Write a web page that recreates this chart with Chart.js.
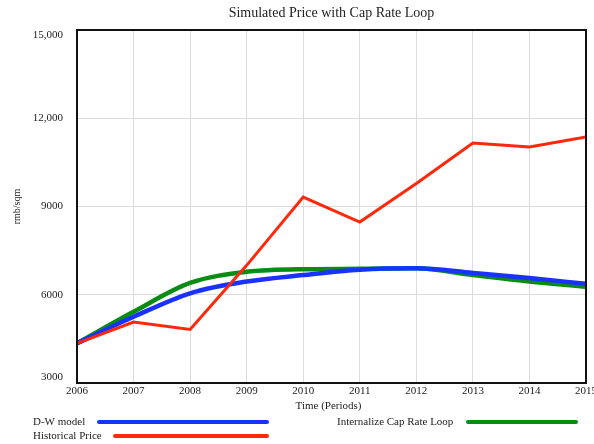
<!DOCTYPE html>
<html>
<head>
<meta charset="utf-8">
<script src="https://cdn.jsdelivr.net/npm/chart.js@4/dist/chart.umd.min.js"></script>
<style>
html,body{margin:0;padding:0;background:#fff;}
#wrap{width:594px;height:444px;position:relative;}
</style>
</head>
<body>
<div id="wrap"><canvas id="c" width="594" height="444"></canvas></div>
<script>
const chartTitle = "Simulated Price with Cap Rate Loop";
const xTitle = "Time (Periods)";
const yTitle = "rmb/sqm";
const years = [2006, 2007, 2008, 2009, 2010, 2011, 2012, 2013, 2014, 2015];
const dwModel = [4350, 5250, 6050, 6450, 6670, 6850, 6900, 6740, 6570, 6370];
const internalizeLoop = [4350, 5420, 6400, 6780, 6870, 6880, 6900, 6670, 6450, 6270];
const historicalPrice = [4350, 5070, 4820, 7000, 9320, 8470, 9780, 11160, 11020, 11360];
const yTickValues = [3000, 6000, 9000, 12000, 15000];
const yTickLabels = ["3000", "6000", "9000", "12,000", "15,000"];
const seriesNames = ["D-W model", "Internalize Cap Rate Loop", "Historical Price"];

const BLUE = "rgb(25,50,255)", GREEN = "rgb(10,140,20)", RED = "rgb(255,40,10)";
const FONT = "'Liberation Serif', 'Times New Roman', serif";
const TXT = "#222";

const toPts = arr => arr.map((v, i) => ({x: years[i], y: v}));

const deco = {
  id: 'deco',
  afterDatasetsDraw(chart) {
    const {ctx, chartArea: a} = chart;
    ctx.save();
    ctx.strokeStyle = "#111";
    ctx.lineWidth = 2;
    ctx.strokeRect(a.left, a.top, a.right - a.left, a.bottom - a.top);
    ctx.restore();
  },
  afterDraw(chart) {
    const {ctx, chartArea: a, scales} = chart;
    const xs = scales.x, ys = scales.y;
    ctx.save();
    ctx.fillStyle = TXT;
    // title
    ctx.font = "14px " + FONT;
    ctx.textAlign = "center"; ctx.textBaseline = "middle";
    ctx.fillText(chartTitle, (a.left + a.right) / 2, 13);
    // y tick labels
    ctx.font = "11px " + FONT;
    ctx.textAlign = "right";
    yTickValues.forEach((v, i) => {
      let py = ys.getPixelForValue(v);
      py = Math.min(Math.max(py, a.top + 5), a.bottom - 6);
      ctx.fillText(yTickLabels[i], a.left - 14, py);
    });
    // x tick labels
    ctx.textAlign = "center";
    years.forEach(v => {
      ctx.fillText(String(v), xs.getPixelForValue(v), a.bottom + 8);
    });
    // x title
    ctx.fillText(xTitle, (a.left + a.right) / 2 - 3, a.bottom + 23);
    // y title
    ctx.save();
    ctx.translate(17, (a.top + a.bottom) / 2);
    ctx.rotate(-Math.PI / 2);
    ctx.font = "10px " + FONT;
    ctx.fillText(yTitle, 0, 0);
    ctx.restore();
    // legend
    ctx.font = "11px " + FONT;
    ctx.textAlign = "left";
    const leg = [
      {t: seriesNames[0], tx: 33, y: 422, x1: 99, x2: 267, c: BLUE, w: 4},
      {t: seriesNames[1], tx: 337, y: 422, x1: 468, x2: 576, c: GREEN, w: 4},
      {t: seriesNames[2], tx: 33, y: 436, x1: 115, x2: 267, c: RED, w: 4}
    ];
    leg.forEach(l => {
      ctx.fillStyle = TXT;
      ctx.fillText(l.t, l.tx, l.y);
      ctx.strokeStyle = l.c; ctx.lineWidth = l.w; ctx.lineCap = "round";
      ctx.beginPath(); ctx.moveTo(l.x1, l.y); ctx.lineTo(l.x2, l.y); ctx.stroke();
    });
    ctx.restore();
  }
};

new Chart(document.getElementById('c'), {
  type: 'line',
  data: {
    datasets: [
      {label: seriesNames[2], data: toPts(historicalPrice), borderColor: RED, borderWidth: 3, tension: 0, order: 0},
      {label: seriesNames[0], data: toPts(dwModel), borderColor: BLUE, borderWidth: 4.5, cubicInterpolationMode: 'monotone', order: 1},
      {label: seriesNames[1], data: toPts(internalizeLoop), borderColor: GREEN, borderWidth: 4.5, cubicInterpolationMode: 'monotone', order: 2}
    ]
  },
  options: {
    responsive: false,
    animation: false,
    devicePixelRatio: 1,
    layout: {padding: {left: 77, right: 8, top: 30, bottom: 61}},
    elements: {point: {radius: 0}},
    plugins: {legend: {display: false}, title: {display: false}, tooltip: {enabled: false}},
    scales: {
      x: {
        type: 'linear', min: 2006, max: 2015,
        ticks: {display: false, stepSize: 1},
        grid: {color: "#dcdcdc", lineWidth: 1, drawTicks: false},
        border: {display: false},
        afterFit(s) { s.height = 0; s.paddingLeft = 0; s.paddingRight = 0; }
      },
      y: {
        min: 3000, max: 15000,
        ticks: {display: false, stepSize: 3000},
        grid: {color: "#dcdcdc", lineWidth: 1, drawTicks: false},
        border: {display: false},
        afterFit(s) { s.width = 0; s.paddingTop = 0; s.paddingBottom = 0; }
      }
    }
  },
  plugins: [deco]
});
</script>
</body>
</html>
